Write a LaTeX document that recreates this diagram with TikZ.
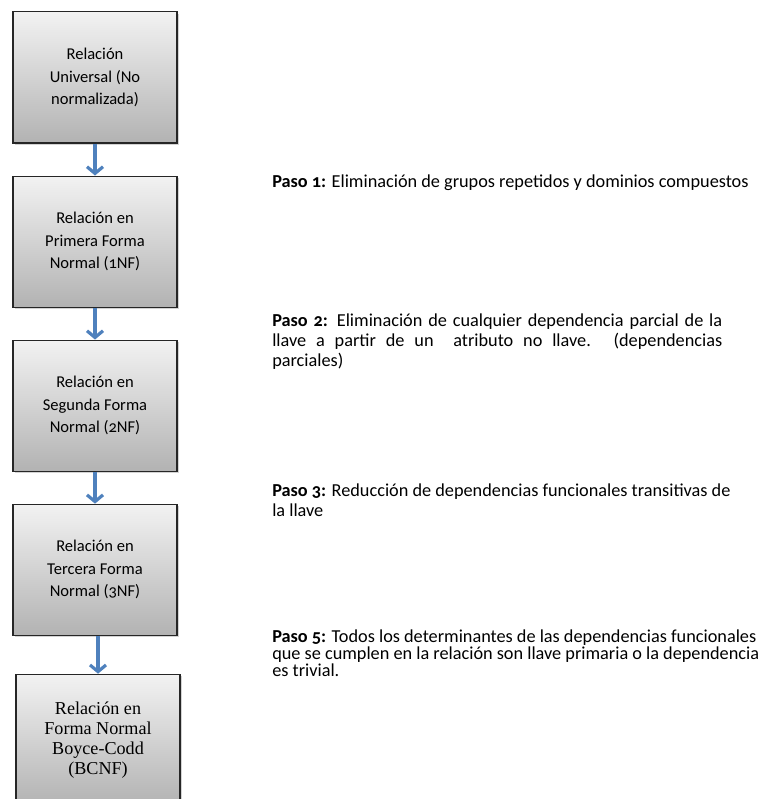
\documentclass[tikz,border=0pt]{standalone}
\usepackage{fontspec}
\setmainfont{Carlito}[Numbers=OldStyle]
\newfontfamily\serifbox{Liberation Serif}
\usetikzlibrary{arrows.meta,positioning,shadows}
\definecolor{arrblue}{RGB}{79,129,189}
\tikzstyle{nf}=[rectangle,draw=black!85,line width=0.8pt,top color=black!5,bottom color=black!30,drop shadow={shadow xshift=1.2pt,shadow yshift=-1.2pt,opacity=0.35},align=center,minimum width=123pt,minimum height=98.25pt,font=\fontsize{12.4}{17}\selectfont]
\tikzstyle{bcnf}=[nf,font=\serifbox\fontsize{13.6}{15}\selectfont]
\tikzstyle{paso}=[anchor=north west,inner sep=0pt,font=\fontsize{13.7}{15}\selectfont]
\tikzstyle{arr}=[-{Straight Barb[length=5pt,width=12pt,line width=2.4pt]},line width=2.4pt,arrblue]

\begin{document}
\begin{tikzpicture}[node distance=24pt]
\clip (0,0) rectangle (570.75pt,-599.25pt);
\node[nf] (U) at (71.25pt,-58.1pt) {Relación\\Universal (No\\normalizada)};
\node[nf, below=of U] (F1) {Relación en\\Primera Forma\\Normal (1NF)};
\node[nf, below=of F1] (F2) {Relación en\\Segunda Forma\\Normal (2NF)};
\node[nf, below=of F2] (F3) {Relación en\\Tercera Forma\\Normal (3NF)};
\node[bcnf, below=28.5pt of F3, xshift=2.25pt] (BC) {Relación en\\Forma Normal\\Boyce-Codd\\(BCNF)};
\node[paso, align=left] (P1) at (204pt,-131pt) {\textbf{Paso 1:} Eliminación de grupos repetidos y dominios compuestos};
\node[paso, text width=337.5pt, align=justify] (P2) at (204pt,-235pt) {\textbf{Paso 2:} Eliminación de cualquier dependencia parcial de la\linebreak llave a partir de un \ atributo no llave. (dependencias\linebreak parciales)};
\node[paso, align=left] (P3) at (204pt,-363pt) {\textbf{Paso 3:} Reducción de dependencias funcionales transitivas de\\la llave};
\node[paso, align=left, font=\fontsize{13.7}{11.5}\selectfont] (P5) at (204pt,-472.5pt) {\textbf{Paso 5:} Todos los determinantes de las dependencias funcionales\\que se cumplen en la relación son llave primaria o la dependencia\\es trivial.};
\draw[arr] (U) -- (F1);
\draw[arr] (F1) -- (F2);
\draw[arr] (F2) -- (F3);
\draw[arr] (F3.south -| BC) -- (BC);
\end{tikzpicture}
\end{document}
